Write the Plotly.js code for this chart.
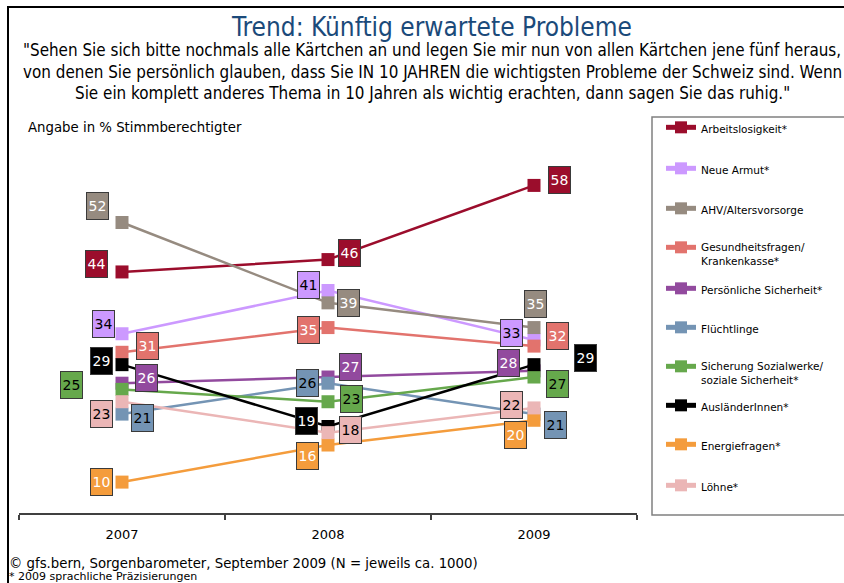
<!DOCTYPE html>
<html>
<head>
<meta charset="utf-8">
<script src="https://cdn.plot.ly/plotly-3.0.1.min.js"></script>
<style>html,body{margin:0;padding:0;background:#fff;}#chart{width:844px;height:583px;}</style>
</head>
<body>
<div id="chart"></div>
<script>
// ---------- data ----------
const years = ['2007', '2008', '2009'];
const seriesNames = [
  'Arbeitslosigkeit*',
  'Neue Armut*',
  'AHV/Altersvorsorge',
  'Gesundheitsfragen/<br>Krankenkasse*',
  'Persönliche Sicherheit*',
  'Flüchtlinge',
  'Sicherung Sozialwerke/<br>soziale Sicherheit*',
  'AusländerInnen*',
  'Energiefragen*',
  'Löhne*'
];
const arbeitslosigkeit = [44, 46, 58];
const neueArmut = [34, 41, 33];
const ahvAltersvorsorge = [52, 39, 35];
const gesundheitsfragen = [31, 35, 32];
const persoenlicheSicherheit = [26, 27, 28];
const fluechtlinge = [21, 26, 21];
const sicherungSozialwerke = [25, 23, 27];
const auslaenderInnen = [29, 19, 29];
const energiefragen = [10, 16, 20];
const loehne = [23, 18, 22];
const seriesValues = [arbeitslosigkeit, neueArmut, ahvAltersvorsorge, gesundheitsfragen,
  persoenlicheSicherheit, fluechtlinge, sicherungSozialwerke, auslaenderInnen, energiefragen, loehne];

// ---------- styles ----------
const colors = ['#9B0D2C', '#CC99FF', '#968B80', '#E2736D', '#924A9E',
  '#7494B4', '#66A84C', '#000000', '#F49C3C', '#EBB6B6'];
const labelTextColors = ['#ffffff', '#000000', '#ffffff', '#ffffff', '#ffffff',
  '#000000', '#000000', '#ffffff', '#ffffff', '#000000'];
// label box offsets (px) relative to the point: [dx, dy] for 2007, 2008, 2009 (dy positive = down)
const labelOffsets = [
  [[-26, -8], [21, -7], [25, -5]],
  [[-19, -10], [-20, -5], [-23, -7]],
  [[-25, -16], [20, 0], [1, -24]],
  [[25, -6], [-20, 2], [23, -10]],
  [[24, -5], [22, -10], [-26, -8]],
  [[20, 4], [-21, 0], [21, 11]],
  [[-51, -4], [23, -3], [23, 7]],
  [[-21, -4], [-22, -5], [51, -7]],
  [[-21, 0], [-21, 11], [-19, 15]],
  [[-21, 12], [22, -3], [-23, -3]]
];
// legend first-line centre (px, from top of page)
const legendRows = [128, 169, 209, 248, 289, 328, 367, 406, 445, 486];

const W = 844, H = 583;
const M = {l: 19, r: 207, t: 115, b: 70};
const PW = W - M.l - M.r, PH = H - M.t - M.b;
const px2x = px => (px - M.l) / PW;
const py2y = py => (H - M.b - py) / PH;
const narrow = 'Liberation Sans Narrow, DejaVu Sans Condensed, Arial Narrow, sans-serif';
const tahoma = 'DejaVu Sans, Verdana, sans-serif';

const traces = seriesNames.map((name, i) => ({
  type: 'scatter',
  mode: 'lines+markers',
  name: name,
  x: years,
  y: seriesValues[i],
  line: {color: colors[i], width: 2.5},
  marker: {symbol: 'square', size: 13, color: colors[i]},
  legend: i === 0 ? 'legend' : 'legend' + (i + 1),
  hoverinfo: 'x+y+name'
}));

const annotations = [];
seriesValues.forEach((vals, i) => {
  vals.forEach((v, j) => {
    annotations.push({
      x: j, y: v, xref: 'x', yref: 'y',
      text: String(v), showarrow: false,
      xanchor: 'center', yanchor: 'middle',
      xshift: labelOffsets[i][j][0], yshift: -labelOffsets[i][j][1],
      width: 21, height: 26, borderpad: 0,
      bgcolor: colors[i], bordercolor: '#3A3A3A', borderwidth: 1,
      font: {family: tahoma, size: 14, color: labelTextColors[i]}
    });
  });
});

const subtitle = [
  '"Sehen Sie sich bitte nochmals alle Kärtchen an und legen Sie mir nun von allen Kärtchen jene fünf heraus,',
  'von denen Sie persönlich glauben, dass Sie IN 10 JAHREN die wichtigsten Probleme der Schweiz sind. Wenn',
  'Sie ein komplett anderes Thema in 10 Jahren als wichtig erachten, dann sagen Sie das ruhig."'
];
const subY = [50, 72, 93];
subtitle.forEach((t, k) => annotations.push({
  xref: 'paper', yref: 'paper', x: px2x(432), y: py2y(subY[k]),
  xanchor: 'center', yanchor: 'middle', showarrow: false, text: t,
  font: {family: narrow, size: 16.9, color: '#000000'}
}));
annotations.push({
  xref: 'paper', yref: 'paper', x: px2x(26), y: py2y(127), xanchor: 'left', yanchor: 'middle',
  showarrow: false, text: 'Angabe in % Stimmberechtigter',
  font: {family: tahoma, size: 13.3, color: '#000000'}
});
annotations.push({
  xref: 'paper', yref: 'paper', x: px2x(7), y: py2y(563), xanchor: 'left', yanchor: 'middle',
  showarrow: false, text: '© gfs.bern, Sorgenbarometer, September 2009 (N = jeweils ca. 1000)',
  font: {family: tahoma, size: 13.3, color: '#000000'}
});
annotations.push({
  xref: 'paper', yref: 'paper', x: px2x(7), y: py2y(576), xanchor: 'left', yanchor: 'middle',
  showarrow: false, text: '* 2009 sprachliche Präzisierungen',
  font: {family: tahoma, size: 11, color: '#000000'}
});

const layout = {
  width: W, height: H,
  margin: M,
  paper_bgcolor: '#ffffff', plot_bgcolor: '#ffffff',
  showlegend: true,
  title: {
    text: 'Trend: Künftig erwartete Probleme',
    font: {family: narrow, size: 26, color: '#1B4A7A'},
    x: 432 / W, xref: 'container', xanchor: 'center',
    y: 1 - 27 / H, yref: 'container', yanchor: 'middle'
  },
  xaxis: {
    type: 'category', categoryarray: years, range: [-0.5, 2.5],
    showline: true, linecolor: '#404040', linewidth: 1.5,
    ticks: 'outside', tickson: 'boundaries', ticklen: 5, tickcolor: '#404040', tickwidth: 1.5,
    ticklabelstandoff: 9,
    showgrid: false, zeroline: false, fixedrange: true,
    tickfont: {family: tahoma, size: 13, color: '#000000'}
  },
  yaxis: {
    range: [5, 5 + PH / 6.181], visible: false, showgrid: false, zeroline: false, fixedrange: true
  },
  annotations: annotations,
  shapes: [
    {type: 'line', xref: 'paper', yref: 'paper', x0: px2x(8), x1: px2x(846), y0: py2y(7), y1: py2y(7),
     line: {color: '#000000', width: 2}},
    {type: 'line', xref: 'paper', yref: 'paper', x0: px2x(8), x1: px2x(8), y0: py2y(6), y1: py2y(590),
     line: {color: '#000000', width: 2}},
    {type: 'rect', xref: 'paper', yref: 'paper', x0: px2x(652), x1: px2x(860), y0: py2y(515), y1: py2y(117),
     line: {color: '#808080', width: 1.5}, fillcolor: 'rgba(0,0,0,0)'}
  ]
};
legendRows.forEach((cy, i) => {
  const key = i === 0 ? 'legend' : 'legend' + (i + 1);
  layout[key] = {
    x: px2x(661), xanchor: 'left', y: py2y(cy - 14), yanchor: 'top',
    bgcolor: 'rgba(0,0,0,0)', borderwidth: 0, valign: 'top',
    font: {family: tahoma, size: 10.5, color: '#000000'},
    itemsizing: 'constant'
  };
});

Plotly.newPlot('chart', traces, layout, {displayModeBar: false});
</script>
</body>
</html>
